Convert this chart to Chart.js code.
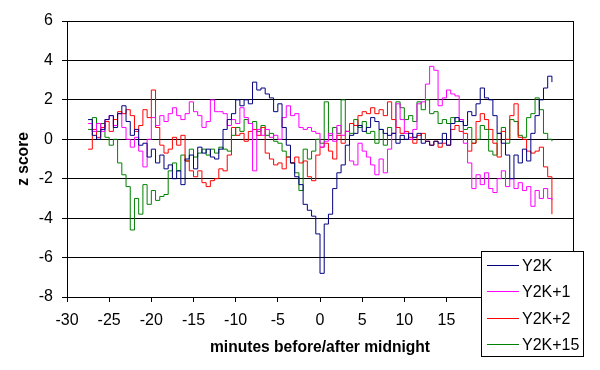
<!DOCTYPE html>
<html><head><meta charset="utf-8">
<script src="https://cdn.jsdelivr.net/npm/chart.js@4/dist/chart.umd.min.js"></script>
<style>html,body{margin:0;padding:0;background:#fff;}#wrap{width:600px;height:370px;}</style>
</head><body><div id="wrap"><canvas id="c" width="600" height="370"></canvas></div>
<script>
const minutes = [-27.5,-27,-26.5,-26,-25.5,-25,-24.5,-24,-23.5,-23,
-22.5,-22,-21.5,-21,-20.5,-20,-19.5,-19,-18.5,-18,
-17.5,-17,-16.5,-16,-15.5,-15,-14.5,-14,-13.5,-13,
-12.5,-12,-11.5,-11,-10.5,-10,-9.5,-9,-8.5,-8,
-7.5,-7,-6.5,-6,-5.5,-5,-4.5,-4,-3.5,-3,
-2.5,-2,-1.5,-1,-0.5,0,0.5,1,1.5,2,
2.5,3,3.5,4,4.5,5,5.5,6,6.5,7,
7.5,8,8.5,9,9.5,10,10.5,11,11.5,12,
12.5,13,13.5,14,14.5,15,15.5,16,16.5,17,
17.5,18,18.5,19,19.5,20,20.5,21,21.5,22,
22.5,23,23.5,24,24.5,25,25.5,26,26.5,27,27.5];

const y2k = [1.0,0.2,0.0,0.5,1.0,1.2,0.6,1.3,1.7,0.9,
0.2,0.5,-0.3,-0.2,-0.9,-0.5,-1.2,-0.8,-1.5,-1.3,
-2.0,-1.6,-2.3,-1.0,-0.8,-1.5,-0.4,-0.7,-0.5,-0.9,
-1.0,-0.5,0.5,1.0,1.3,2.0,1.7,2.0,1.8,2.9,
2.5,2.6,2.3,2.1,1.4,1.8,0.6,-0.3,-1.2,-1.9,
-2.3,-3.3,-3.6,-3.9,-4.8,-6.8,-4.3,-3.8,-2.5,-1.7,
-1.3,-0.3,0.2,0.3,0.7,0.4,0.6,1.1,0.9,0.5,
0.3,0.2,0.3,-0.2,0.2,0.0,0.3,0.1,0.3,-0.2,
-0.1,-0.3,-0.1,-0.2,0.3,-0.3,0.8,1.1,0.9,0.7,
1.4,1.2,1.8,2.6,2.1,2.0,1.2,0.3,-0.2,-0.8,
-2.0,-0.8,-1.2,-0.5,-1.1,0.3,1.2,2.0,2.6,3.2,2.9];

const y2kPlus1 = [0.8,0.4,0.8,0.4,1.0,1.2,0.7,1.3,0.6,0.0,
-0.4,0.1,-0.6,-1.4,0.0,1.1,0.7,1.2,0.9,1.3,
1.6,1.2,1.0,1.3,1.9,1.4,1.2,0.6,0.9,2.0,
1.4,1.4,1.3,0.7,1.0,0.8,1.6,1.1,0.8,-1.6,
0.5,0.2,0.5,0.1,0.2,0.0,1.1,1.7,1.2,1.3,
0.6,0.5,0.6,0.4,0.3,-0.4,-0.1,0.3,-0.1,0.7,
0.2,0.4,-1.1,-1.3,-0.2,-0.6,-0.9,-1.3,-1.8,-1.0,
-1.7,-0.5,0.3,1.8,1.0,0.3,0.0,0.5,1.8,1.9,
2.8,3.7,3.5,1.7,2.1,2.5,2.3,2.2,1.0,-0.2,
-1.2,-2.5,-1.8,-2.3,-1.7,-2.5,-2.7,-2.0,-1.6,-2.4,
-2.0,-2.5,-2.2,-2.6,-2.4,-3.4,-2.6,-3.0,-2.5,-3.0,-3.1];

const y2kPlus2 = [-0.5,0.5,0.1,0.6,0.9,0.4,1.0,1.4,1.3,1.5,
1.2,0.4,0.7,1.5,1.1,2.5,0.6,-0.3,-0.7,-0.5,
0.1,-0.3,0.2,-1.1,-1.6,-1.9,-1.6,-2.2,-2.4,-2.1,
-2.0,-1.5,-1.6,-0.8,0.6,0.2,0.3,-0.1,0.4,0.5,
0.2,0.6,-0.7,-1.0,-1.3,-1.2,-1.5,-0.9,-1.2,-0.9,
-1.2,-1.1,-1.9,-2.1,-0.8,-0.4,-0.2,-0.6,-1.0,0.2,
-0.2,0.4,0.8,0.7,1.2,1.4,1.3,1.6,1.3,1.5,
1.2,1.9,1.0,0.6,0.3,0.4,0.1,-0.2,0.2,0.3,
-0.1,-0.3,-0.1,-0.4,-0.2,-0.3,0.5,0.7,0.4,0.3,
-0.6,-0.2,0.9,1.3,1.0,0.5,-0.2,-0.9,0.4,0.0,
1.2,1.8,0.1,0.0,-0.6,-0.7,-0.6,-0.4,-1.4,-1.9,-3.8];

const y2kPlus15 = [0.5,1.1,0.4,0.8,0.1,-0.3,0.0,-1.2,-1.8,-2.4,
-4.6,-3.0,-3.8,-2.3,-3.3,-2.6,-3.1,-2.9,-2.8,-1.6,
-1.2,-1.6,-0.8,-1.1,-0.5,-0.9,-0.7,-0.5,-0.8,-0.5,
-0.7,-0.4,-0.5,-0.6,0.2,0.6,0.4,1.0,0.8,0.9,
0.4,0.7,0.2,0.3,-0.1,-0.2,-0.6,-0.9,-1.2,-1.7,
-2.6,-0.5,-1.0,-0.6,0.0,-0.2,1.9,0.2,0.6,0.3,
2.0,0.4,0.3,1.0,0.6,0.9,0.3,0.4,-0.2,0.5,
-0.3,0.6,0.3,1.9,1.6,1.0,1.2,0.9,1.9,1.5,
2.0,1.3,1.4,0.8,1.0,0.8,1.1,0.9,1.0,0.5,
0.6,-0.2,0.0,0.7,0.5,-0.6,-0.8,0.3,0.6,-0.2,
1.0,0.9,0.2,0.1,1.1,1.3,2.1,1.5,0.3,0.0,-0.1];

const seriesNames = ['Y2K','Y2K+1','Y2K+2','Y2K+15'];
const seriesColors = ['#000080','#FF00FF','#FF0000','#008000'];
const seriesValues = [y2k, y2kPlus1, y2kPlus2, y2kPlus15];

const FONT = '"Liberation Sans", Arial, sans-serif';

const datasets = seriesNames.map((name, k) => ({
  label: name,
  data: minutes.map((m, i) => ({x: m, y: seriesValues[k][i]})),
  borderColor: seriesColors[k],
  backgroundColor: seriesColors[k],
  borderWidth: 1,
  pointRadius: 0,
  stepped: true,
  fill: false
}));

const framePlugin = {
  id: 'frame',
  beforeDatasetsDraw(chart) {
    const {ctx, chartArea} = chart;
    ctx.save();
    ctx.strokeStyle = '#000';
    ctx.lineWidth = 1;
    const x = Math.round(chartArea.right) + 0.5;
    ctx.beginPath();
    ctx.moveTo(x, Math.round(chartArea.top));
    ctx.lineTo(x, Math.round(chartArea.bottom) + 1);
    ctx.stroke();
    ctx.restore();
  },
  afterDraw(chart) {
    const ctx = chart.ctx;
    ctx.save();
    const bx = 481, by = 251, bw = 102, bh = 105;
    const rows = [265, 291, 318, 344];
    ctx.fillStyle = '#fff';
    ctx.fillRect(bx, by, bw, bh);
    ctx.strokeStyle = '#000';
    ctx.lineWidth = 1;
    ctx.strokeRect(bx + 0.5, by + 0.5, bw, bh);
    ctx.font = '16px ' + FONT;
    ctx.textBaseline = 'middle';
    ctx.fillStyle = '#000';
    chart.data.datasets.forEach((ds, i) => {
      const ry = rows[i] + 0.5;
      ctx.strokeStyle = ds.borderColor;
      ctx.beginPath();
      ctx.moveTo(487, ry);
      ctx.lineTo(519, ry);
      ctx.stroke();
      ctx.fillText(ds.label, 522, ry + 1);
    });
    ctx.restore();
  }
};

new Chart(document.getElementById('c'), {
  type: 'line',
  data: {datasets},
  options: {
    responsive: false,
    animation: false,
    devicePixelRatio: 1,
    layout: {padding: {left: 0, top: 21, right: 27, bottom: 0}},
    plugins: {legend: {display: false}, tooltip: {enabled: false}},
    scales: {
      x: {
        type: 'linear', min: -30, max: 30,
        afterFit: s => { s.height = 73; },
        ticks: {stepSize: 5, color: '#000', font: {family: FONT, size: 16}, padding: 9, maxRotation: 0, autoSkip: false,
                callback: v => (v >= 20 ? '' : v)},
        grid: {drawOnChartArea: false, color: '#000', tickLength: 5, lineWidth: 1},
        border: {display: true, color: '#000', width: 1},
        title: {display: true, text: 'minutes before/after midnight', color: '#000',
                font: {family: FONT, size: 15.6, weight: 'bold'}, padding: {top: 0, bottom: 13.2}}
      },
      y: {
        type: 'linear', min: -8, max: 6,
        afterFit: s => { s.width = 67; },
        ticks: {stepSize: 2, color: '#000', font: {family: FONT, size: 16}, padding: 9},
        grid: {color: '#000', tickLength: 5, lineWidth: 1},
        border: {display: true, color: '#000', width: 1},
        title: {display: true, text: 'z score', color: '#000',
                font: {family: FONT, size: 15.6, weight: 'bold'}, padding: {top: 14, bottom: 0}}
      }
    }
  },
  plugins: [framePlugin]
});
</script></body></html>
